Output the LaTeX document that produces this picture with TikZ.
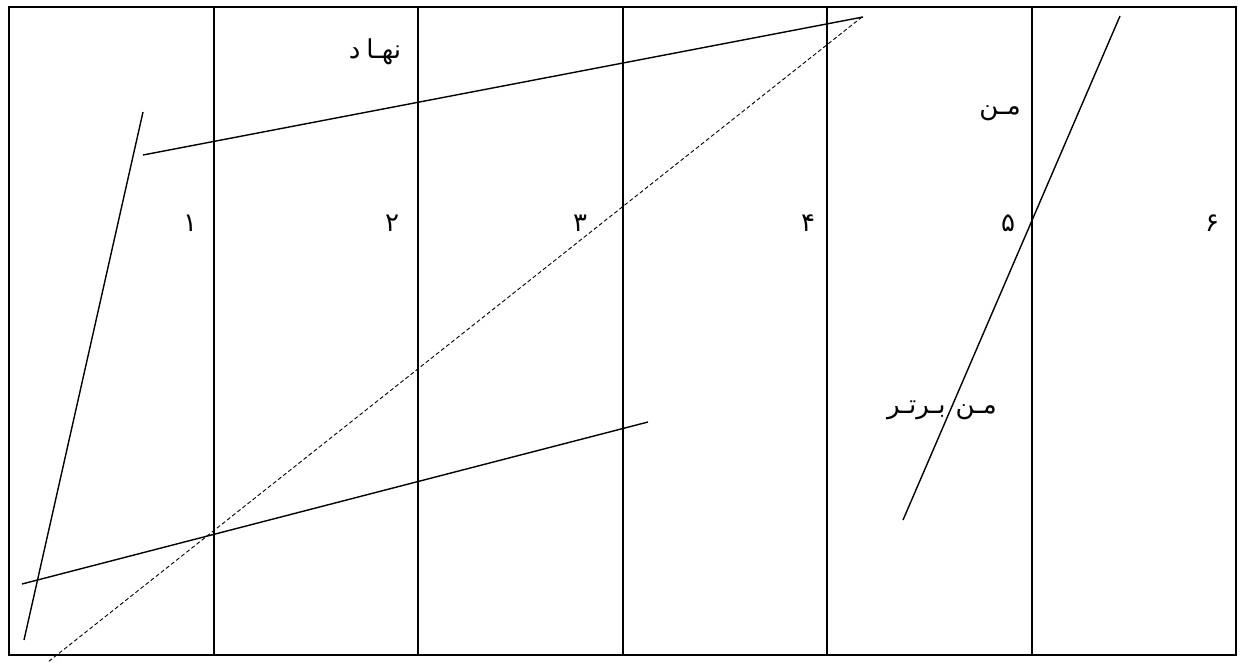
\documentclass[tikz,border=0pt]{standalone}
\usepackage{fontspec}
\newfontfamily\arabicfont[Script=Arabic]{DejaVu Sans}
\TeXXeTstate=1
\usetikzlibrary{positioning}

\begin{document}
\begin{tikzpicture}[x=1pt,y=-1pt,
    frame/.style={black,line width=2pt},
    stroke/.style={black,line width=1.4pt},
    dashline/.style={black,line width=0.9pt,dash pattern=on 4pt off 2.5pt},
    fa/.style={font=\arabicfont\fontsize{26}{30}\selectfont,inner sep=0pt}]
  \useasboundingbox (0,0) rectangle (1244,662);
  % grid
  \draw[frame] (9,7) rectangle (1236,655);
  \foreach \x in {214,418,623,827,1032}{
    \draw[frame] (\x,7)--(\x,655);
  }
  \foreach \x/\n/\d in {190/1/۱,392/2/۲,580/3/۳,808/4/۴,1008/5/۵,1212/6/۶}{
    \node[fa] (d\n) at (\x,223){\d};
  }
  % labels
  \node[fa] (nahad) at (375,52){\beginR نهـا\hspace{6pt}د\endR};
  \node[fa] (man) at (1000,113){\beginR مـن\endR};
  \node[fa] (bartar) at (942,410){\beginR مـن\hspace{10pt}بـرتـر\endR};
  % end points
  \coordinate (ltop) at (143,112);
  \coordinate (lbot) at (24,640);
  \coordinate (tl) at (143,155);
  \coordinate (tr) at (863,17);
  \coordinate (bl) at (22,584);
  \coordinate (br) at (648,422);
  \coordinate (dtop) at (862,17);
  \coordinate (dbot) at (48,662);
  \coordinate (rtop) at (1120,16);
  \coordinate (rbot) at (903,520);
  \draw[stroke] (ltop)--(lbot);
  \draw[stroke] (tl)--(tr);
  \draw[stroke] (bl)--(br);
  \draw[stroke] (rtop)--(rbot);
  \draw[dashline] (dtop)--(dbot);
\end{tikzpicture}
\end{document}
